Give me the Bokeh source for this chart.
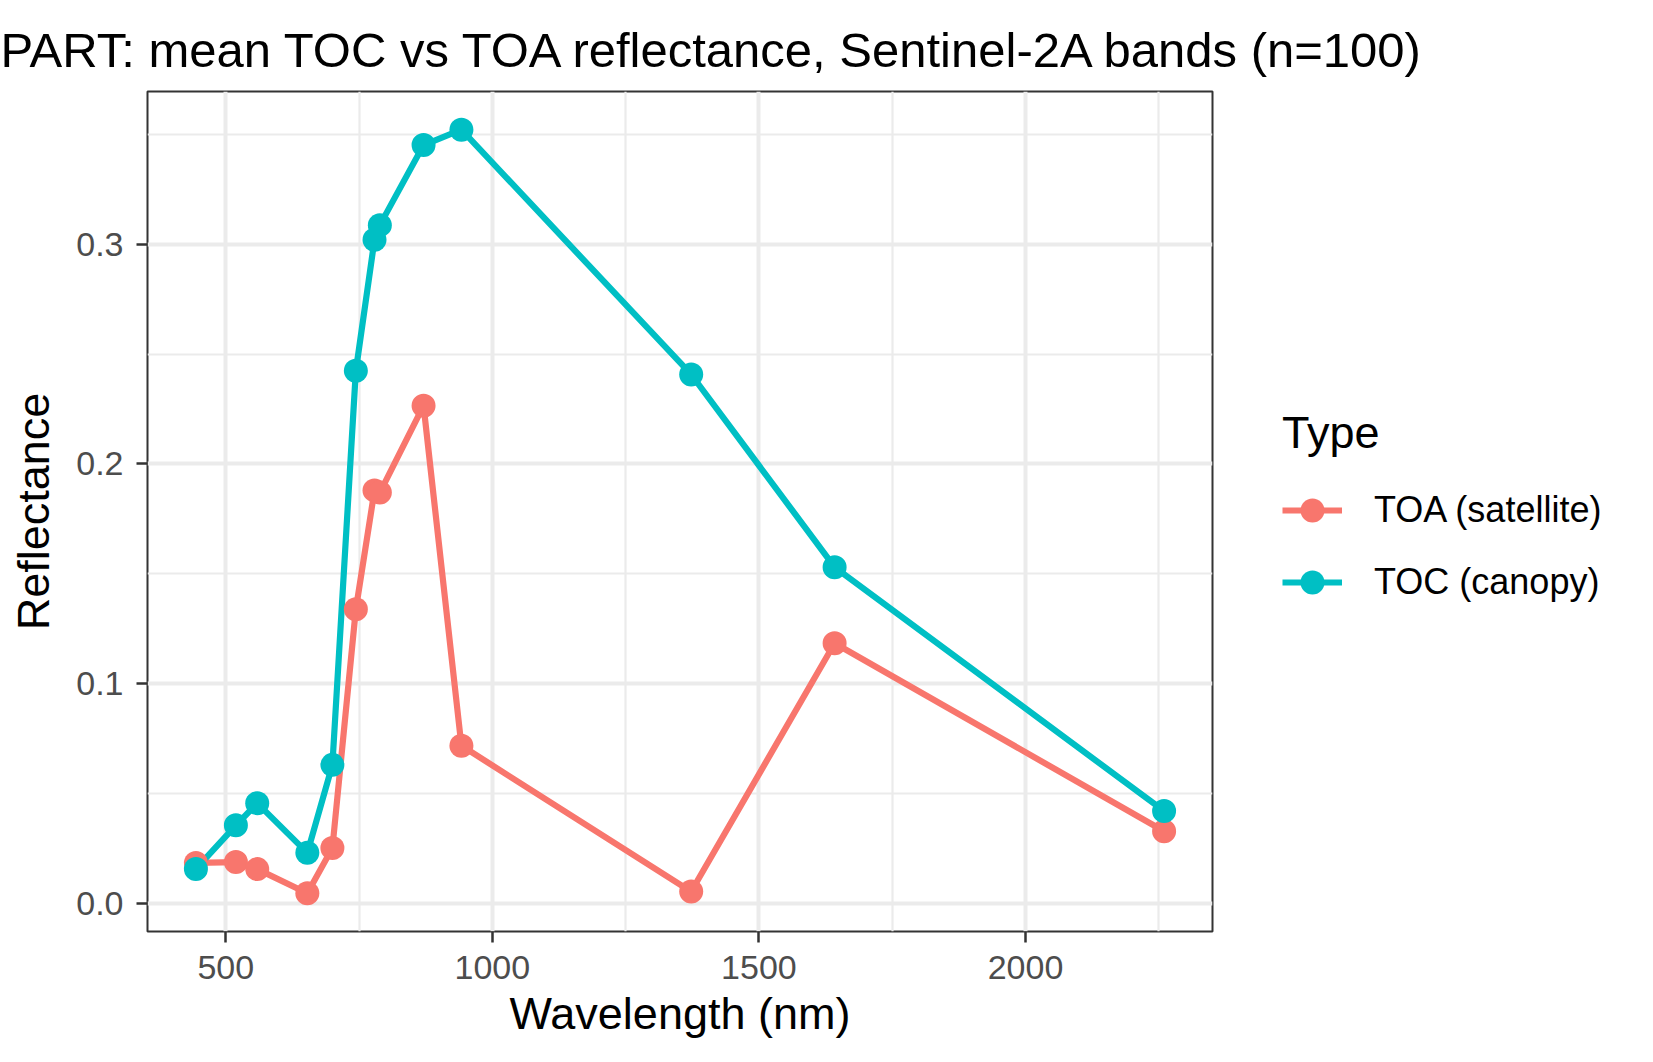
from bokeh.plotting import figure
from bokeh.models import (Range1d, FixedTicker, PrintfTickFormatter, Legend,
                          LegendItem, Title)
from bokeh.embed import file_html
from bokeh.resources import INLINE

# ---- data ----
wavelength_nm = [444, 519, 559, 653, 700, 744, 779, 789, 871, 942, 1373, 1642, 2260]
toa_reflectance = [0.0186, 0.0190, 0.0158, 0.0048, 0.0254, 0.1340, 0.1880, 0.1870,
                   0.2265, 0.0719, 0.0056, 0.1185, 0.0330]
toc_reflectance = [0.0159, 0.0357, 0.0458, 0.0232, 0.0632, 0.2424, 0.3020, 0.3086,
                   0.3450, 0.3520, 0.2407, 0.1531, 0.0422]
series_labels = ["TOA (satellite)", "TOC (canopy)"]
series_colors = ["#F8766D", "#00BFC4"]
x_ticks = [500, 1000, 1500, 2000]
x_minor_ticks = [750, 1250, 1750, 2250]
y_ticks = [0.0, 0.1, 0.2, 0.3]
y_minor_ticks = [0.05, 0.15, 0.25, 0.35]
title_text = "PART: mean TOC vs TOA reflectance, Sentinel-2A bands (n=100)"
x_label = "Wavelength (nm)"
y_label = "Reflectance"
legend_title = "Type"

FONT = "Liberation Sans"

# ggplot-like 5% expansion of the data range
all_y = toa_reflectance + toc_reflectance
xr = max(wavelength_nm) - min(wavelength_nm)
yr = max(all_y) - min(all_y)
x_range = Range1d(min(wavelength_nm) - 0.05 * xr, max(wavelength_nm) + 0.05 * xr)
y_range = Range1d(min(all_y) - 0.05 * yr, max(all_y) + 0.05 * yr)

p = figure(output_backend="svg", toolbar_location=None,
           frame_width=1065, frame_height=840,
           x_range=x_range, y_range=y_range,
           min_border_left=147, min_border_right=425,
           min_border_top=91, min_border_bottom=112)

p.background_fill_color = "white"
p.border_fill_color = "white"
p.outline_line_color = "#333333"
p.outline_line_width = 2

p.title = None
p.add_layout(Title(text=title_text, text_font=FONT, text_font_size="49px",
                   text_font_style="normal", text_color="black",
                   align="left", offset=-147, standoff=30), "above")

# axes
p.xaxis.ticker = FixedTicker(ticks=x_ticks, minor_ticks=x_minor_ticks)
p.yaxis.ticker = FixedTicker(ticks=y_ticks, minor_ticks=y_minor_ticks)
p.yaxis.formatter = PrintfTickFormatter(format="%.1f")
for ax in (p.xaxis, p.yaxis):
    ax.axis_line_color = None
    ax.major_tick_line_color = "#333333"
    ax.major_tick_line_width = 2.5
    ax.major_tick_out = 11
    ax.major_tick_in = 0
    ax.minor_tick_line_color = None
    ax.major_label_text_font = FONT
    ax.major_label_text_font_size = "34px"
    ax.major_label_text_color = "#4D4D4D"
    ax.axis_label_text_font = FONT
    ax.axis_label_text_font_size = "45px"
    ax.axis_label_text_font_style = "normal"
    ax.axis_label_text_color = "black"
p.xaxis.axis_label = x_label
p.yaxis.axis_label = y_label
p.xaxis.major_label_standoff = 13
p.xaxis.axis_label_standoff = 6
p.yaxis.major_label_standoff = 13
p.yaxis.axis_label_standoff = 14

# grid
for g in (p.xgrid, p.ygrid):
    g.grid_line_color = "#EBEBEB"
    g.grid_line_width = 4
    g.minor_grid_line_color = "#EBEBEB"
    g.minor_grid_line_width = 2.2

# data: lines first, then points (ggplot layer order)
series = [toa_reflectance, toc_reflectance]
lines = []
for vals, col in zip(series, series_colors):
    lines.append(p.line(wavelength_nm, vals, line_color=col, line_width=6.2))
points = []
for vals, col in zip(series, series_colors):
    points.append(p.scatter(wavelength_nm, vals, marker="circle", size=24,
                            fill_color=col, line_color=col, line_width=0))

items = [LegendItem(label=lab, renderers=[ln, pt])
         for lab, ln, pt in zip(series_labels, lines, points)]
legend = Legend(items=items, title=legend_title, location="center_left",
                orientation="vertical",
                title_text_font=FONT, title_text_font_size="45px",
                title_text_font_style="normal", title_text_color="black",
                label_text_font=FONT, label_text_font_size="36px",
                label_text_color="black",
                glyph_width=60, glyph_height=66, label_height=66,
                label_standoff=32, spacing=6, title_standoff=18,
                margin=70, padding=6,
                border_line_color=None, background_fill_alpha=0)
p.add_layout(legend, "right")

open("out.html", "w").write(file_html(p, INLINE))
